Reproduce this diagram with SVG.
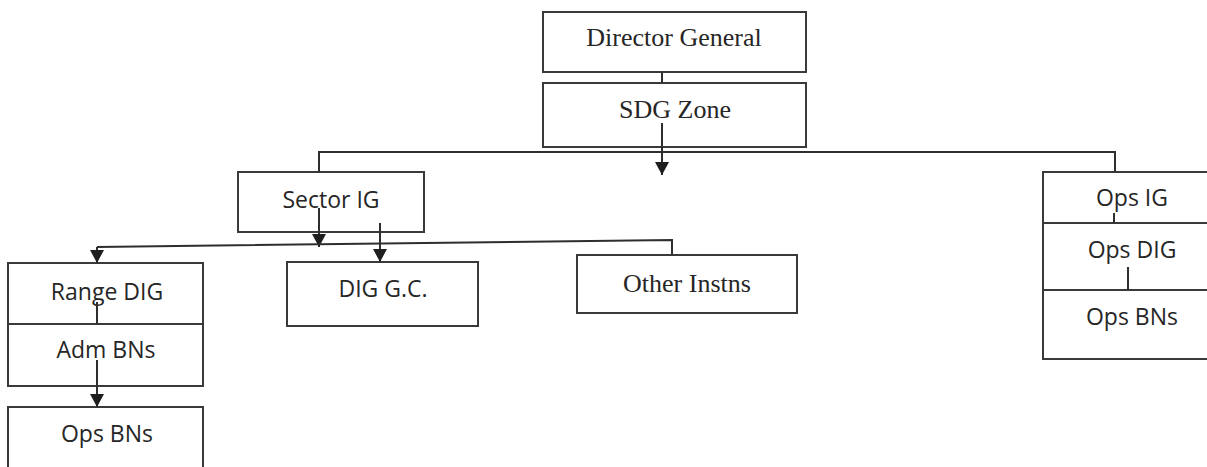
<svg xmlns="http://www.w3.org/2000/svg" width="1207" height="467" viewBox="0 0 1207 467">
  <style>
    .box { fill: #ffffff; stroke: #3a3a3a; stroke-width: 2; }
    .line { fill: none; stroke: #2e2e2e; stroke-width: 2; }
    .serif { font-family: "Liberation Serif", "Times New Roman", serif; font-size: 26px; fill: #262626; text-anchor: middle; }
    .sans { font-family: "Open Sans", "Noto Sans", sans-serif; font-size: 23px; fill: #262626; text-anchor: middle; }
  </style>
  <defs>
    <marker id="arrow" markerUnits="userSpaceOnUse" markerWidth="14" markerHeight="14" viewBox="0 0 14 14" refX="13" refY="7" orient="auto">
      <path d="M0,0 L13,7 L0,14 Z" fill="#1e1e1e"/>
    </marker>
  </defs>

  <rect width="1207" height="467" fill="#ffffff"/>

  <!-- nodes -->
  <g id="director-general">
    <rect class="box" x="543" y="12" width="263" height="60"/>
    <text class="serif" x="674" y="46">Director General</text>
  </g>
  <g id="sdg-zone">
    <rect class="box" x="543" y="83" width="263" height="64"/>
    <text class="serif" x="675" y="118">SDG Zone</text>
  </g>
  <g id="sector-ig">
    <rect class="box" x="238" y="172" width="186" height="60"/>
    <text class="sans" x="331" y="208">Sector IG</text>
  </g>
  <g id="dig-gc">
    <rect class="box" x="287" y="262" width="191" height="64"/>
    <text class="sans" x="383" y="297">DIG G.C.</text>
  </g>
  <g id="other-instns">
    <rect class="box" x="577" y="255" width="220" height="58"/>
    <text class="serif" x="687" y="292">Other Instns</text>
  </g>
  <g id="range-dig">
    <rect class="box" x="8" y="263" width="195" height="61"/>
    <text class="sans" x="107" y="300">Range DIG</text>
  </g>
  <g id="adm-bns">
    <rect class="box" x="8" y="324" width="195" height="62"/>
    <text class="sans" x="106" y="358">Adm BNs</text>
  </g>
  <g id="range-ops-bns">
    <rect class="box" x="8" y="407" width="195" height="80"/>
    <text class="sans" x="107" y="442">Ops BNs</text>
  </g>
  <g id="ops-ig">
    <rect class="box" x="1043" y="172" width="180" height="51"/>
    <text class="sans" x="1132" y="206">Ops IG</text>
  </g>
  <g id="ops-dig">
    <rect class="box" x="1043" y="223" width="180" height="67"/>
    <text class="sans" x="1132" y="258">Ops DIG</text>
  </g>
  <g id="ops-bns">
    <rect class="box" x="1043" y="290" width="180" height="69"/>
    <text class="sans" x="1132" y="325">Ops BNs</text>
  </g>

  <!-- connectors -->
  <g id="connectors">
    <line class="line" x1="662" y1="72" x2="662" y2="83"/>
    <line class="line" x1="662" y1="123" x2="662" y2="175" marker-end="url(#arrow)"/>
    <polyline class="line" points="319,172 319,152 1115,152 1115,172"/>
    <line class="line" x1="319" y1="208" x2="319" y2="247" marker-end="url(#arrow)"/>
    <line class="line" x1="380" y1="223" x2="380" y2="262" marker-end="url(#arrow)"/>
    <polyline class="line" points="97,247 672,240 672,255"/>
    <line class="line" x1="97" y1="247" x2="97" y2="263" marker-end="url(#arrow)"/>
    <line class="line" x1="97" y1="302" x2="97" y2="324"/>
    <line class="line" x1="97" y1="360" x2="97" y2="407" marker-end="url(#arrow)"/>
    <line class="line" x1="1114" y1="213" x2="1114" y2="223"/>
    <line class="line" x1="1128" y1="267" x2="1128" y2="290"/>
  </g>
</svg>
